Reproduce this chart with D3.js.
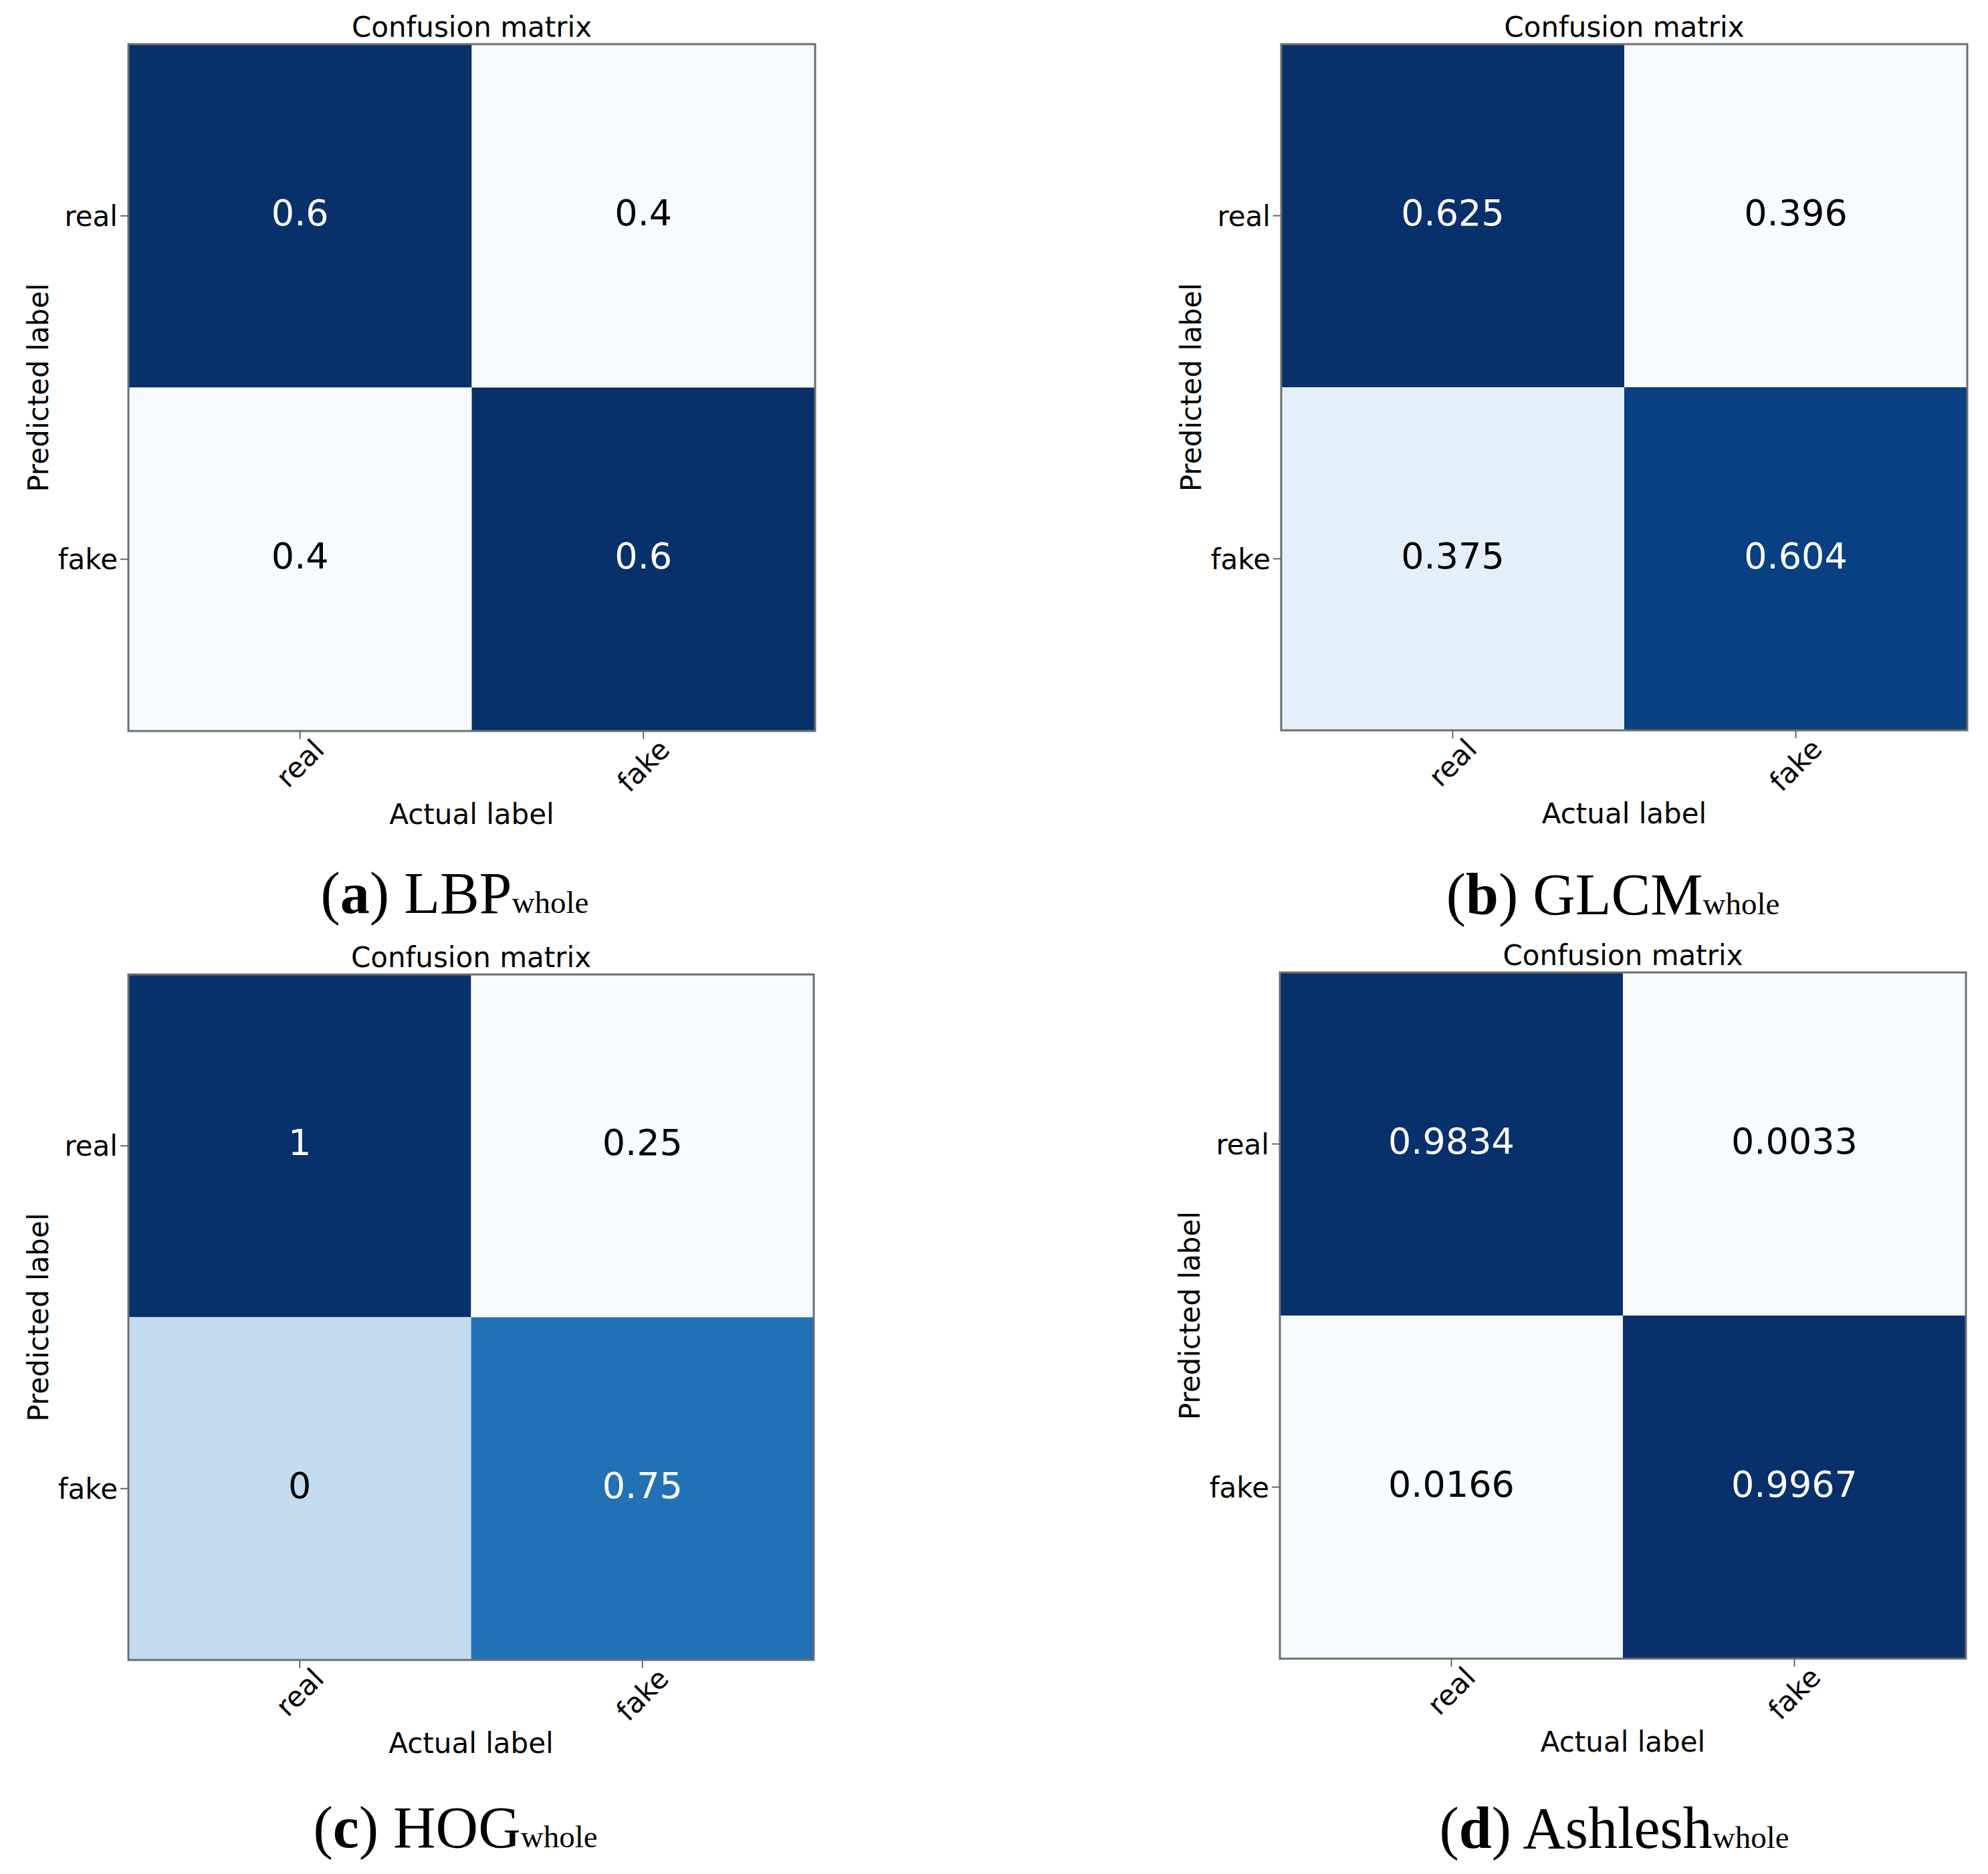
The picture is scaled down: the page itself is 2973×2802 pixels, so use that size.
<!DOCTYPE html>
<html>
<head>
<meta charset="utf-8">
<script src="https://d3js.org/d3.v7.min.js"></script>
<style>
  body { margin: 0; background: #fff; }
  svg { display: block; }
</style>
</head>
<body>
<div id="chart"></div>
<script>
// tick categories (rows = predicted, columns = actual)
var categories = ["real", "fake"];

// cell values of each matrix
var lbpValues = [[0.6, 0.4], [0.4, 0.6]];
var glcmValues = [[0.625, 0.396], [0.375, 0.604]];
var hogValues = [[1, 0.25], [0, 0.75]];
var ashleshValues = [[0.9834, 0.0033], [0.0166, 0.9967]];

// colour level of each cell, as it shows in the picture (0 = lightest, 1 = darkest)
var lbpShade = [[1, 0], [0, 1]];
var glcmShade = [[1, 0], [0.09, 0.94]];
var hogShade = [[1, 0], [0.25, 0.75]];
var ashleshShade = [[1, 0], [0, 1]];

// captions
var captionLetters = ["a", "b", "c", "d"];
var captionNames = ["LBP", "GLCM", "HOG", "Ashlesh"];

// where each panel sits on the page
var panels = [
  {values: lbpValues, shade: lbpShade, x0: 192, y0: 66, size: 1027, capX: 680, capY: 1365},
  {values: glcmValues, shade: glcmShade, x0: 1916, y0: 66, size: 1026, capX: 2412, capY: 1367},
  {values: hogValues, shade: hogShade, x0: 192, y0: 1457, size: 1025, capX: 681, capY: 2762},
  {values: ashleshValues, shade: ashleshShade, x0: 1914, y0: 1454, size: 1026, capX: 2414, capY: 2763}
];

var W = 2973, H = 2802;
var sans = "'DejaVu Sans', sans-serif";
var serif = "'Liberation Serif', 'DejaVu Serif', serif";
var color = d3.scaleSequential(d3.interpolateBlues).domain([0, 1]);

var svg = d3.select("#chart").append("svg")
    .attr("width", W)
    .attr("height", H);
svg.append("rect").attr("width", W).attr("height", H).attr("fill", "#fff");

panels.forEach(function(p, k) {
  var x = d3.scaleBand().domain(categories).range([p.x0, p.x0 + p.size]);
  var y = d3.scaleBand().domain(categories).range([p.y0, p.y0 + p.size]);
  var g = svg.append("g");

  // cells
  var cells = [];
  categories.forEach(function(rowName, i) {
    categories.forEach(function(colName, j) {
      cells.push({row: rowName, col: colName, v: p.values[i][j], s: p.shade[i][j]});
    });
  });

  g.selectAll("rect.cell").data(cells).enter().append("rect")
      .attr("class", "cell")
      .attr("x", function(d) { return x(d.col); })
      .attr("y", function(d) { return y(d.row); })
      .attr("width", x.bandwidth())
      .attr("height", y.bandwidth())
      .attr("fill", function(d) { return color(d.s); });

  g.selectAll("text.val").data(cells).enter().append("text")
      .attr("class", "val")
      .attr("x", function(d) { return x(d.col) + x.bandwidth() / 2; })
      .attr("y", function(d) { return y(d.row) + y.bandwidth() / 2; })
      .attr("dy", "0.26em")
      .attr("text-anchor", "middle")
      .style("font-family", sans)
      .style("font-size", "54px")
      .attr("fill", function(d) { return d.s > 0.5 ? "#fff" : "#000"; })
      .text(function(d) { return String(d.v); });

  // frame
  g.append("rect")
      .attr("x", p.x0).attr("y", p.y0)
      .attr("width", p.size).attr("height", p.size)
      .attr("fill", "none")
      .attr("stroke", "#6e6e6e")
      .attr("stroke-width", 3);

  // y axis
  var ya = g.append("g")
      .attr("transform", "translate(" + p.x0 + ",0)")
      .call(d3.axisLeft(y).tickSize(12).tickPadding(4));
  ya.select(".domain").remove();
  ya.selectAll(".tick line").attr("stroke", "#666").attr("stroke-width", 2);
  ya.selectAll(".tick text")
      .attr("dy", "0.36em")
      .attr("fill", "#000")
      .style("font-family", sans)
      .style("font-size", "42px");

  // x axis with labels turned 45 degrees
  var xa = g.append("g")
      .attr("transform", "translate(0," + (p.y0 + p.size) + ")")
      .call(d3.axisBottom(x).tickSize(12));
  xa.select(".domain").remove();
  xa.selectAll(".tick line").attr("stroke", "#666").attr("stroke-width", 2);
  xa.selectAll(".tick text")
      .attr("y", 0)
      .attr("dy", 0)
      .attr("fill", "#000")
      .attr("text-anchor", "middle")
      .attr("dominant-baseline", "central")
      .style("font-family", sans)
      .style("font-size", "42px")
      .attr("transform", function() {
        var w = this.getComputedTextLength();
        var off = 3 + (w + 49) * 0.3535;
        return "translate(0," + off + ") rotate(-45)";
      });

  // title and axis names
  g.append("text")
      .attr("x", p.x0 + p.size / 2)
      .attr("y", p.y0 - 11)
      .attr("text-anchor", "middle")
      .style("font-family", sans)
      .style("font-size", "42px")
      .text("Confusion matrix");

  g.append("text")
      .attr("x", p.x0 + p.size / 2)
      .attr("y", p.y0 + p.size + 139)
      .attr("text-anchor", "middle")
      .style("font-family", sans)
      .style("font-size", "42px")
      .text("Actual label");

  g.append("text")
      .attr("transform", "translate(" + (p.x0 - 120) + "," + (p.y0 + p.size / 2) + ") rotate(-90)")
      .attr("text-anchor", "middle")
      .style("font-family", sans)
      .style("font-size", "42px")
      .text("Predicted label");

  // caption under the panel
  var cap = g.append("text")
      .attr("x", p.capX)
      .attr("y", p.capY)
      .attr("text-anchor", "middle")
      .style("font-family", serif)
      .style("font-size", "88px");
  cap.append("tspan").text("(");
  cap.append("tspan").style("font-weight", "bold").text(captionLetters[k]);
  cap.append("tspan").text(") " + captionNames[k]);
  cap.append("tspan").style("font-size", "47px").text("whole");
});
</script>
</body>
</html>
